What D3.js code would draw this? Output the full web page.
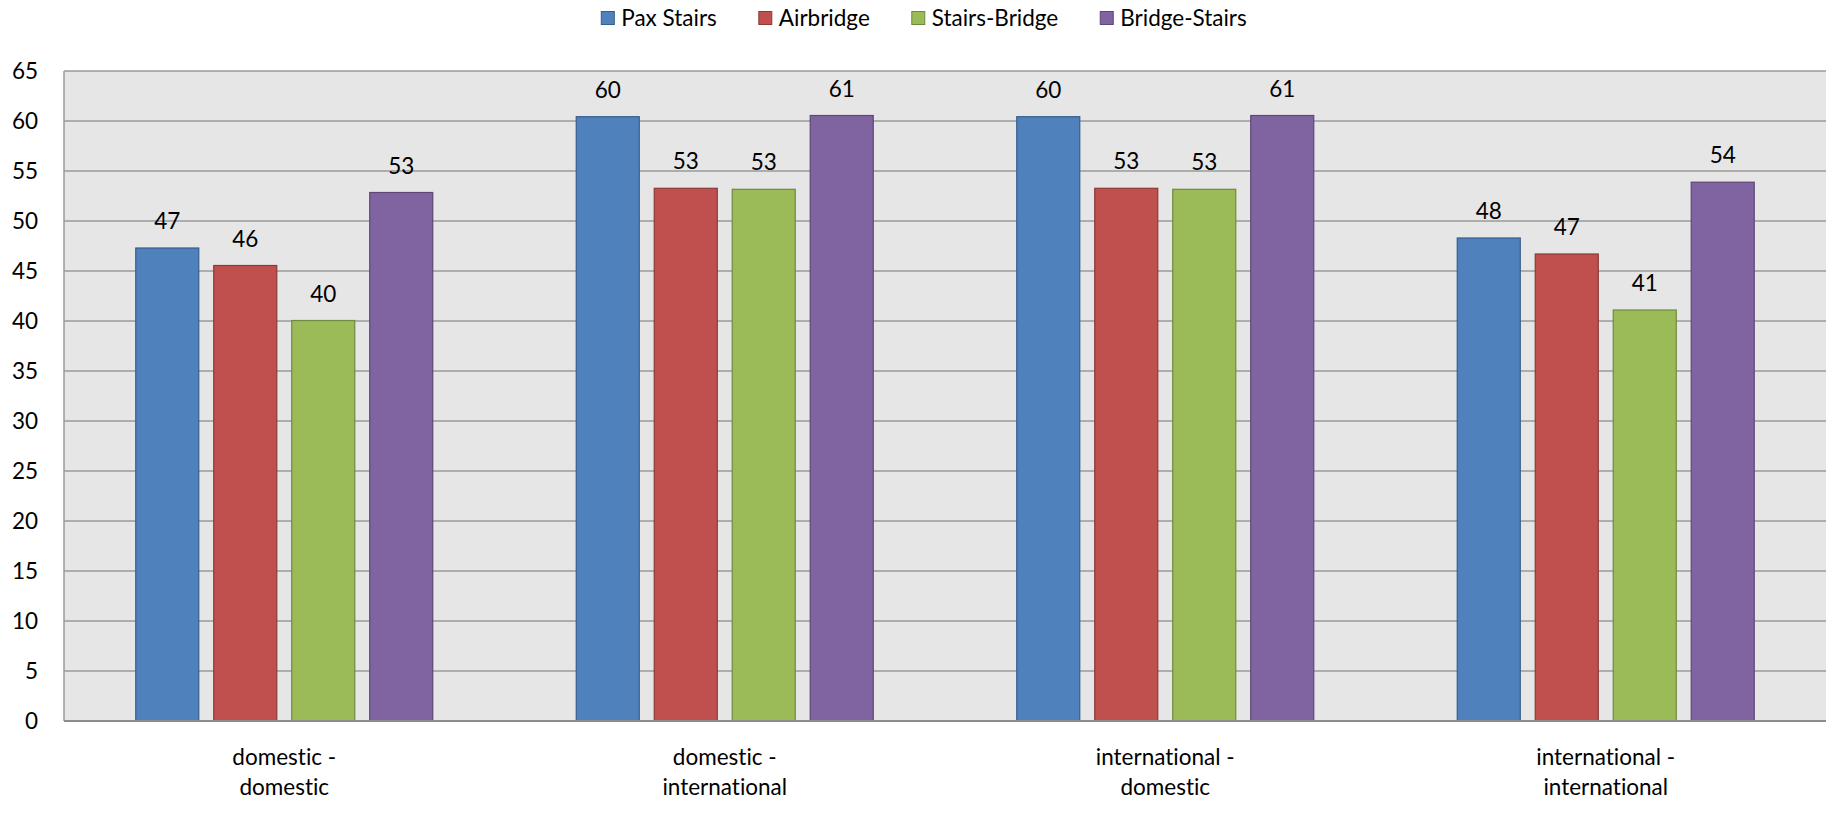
<!DOCTYPE html>
<html>
<head>
<meta charset="utf-8">
<script src="https://cdn.jsdelivr.net/npm/d3@7"></script>
<style>
  html, body { margin: 0; padding: 0; background: #ffffff; }
  svg { display: block; }
  text { font-family: Lato, "Open Sans", sans-serif; fill: #000; font-variant-ligatures: none; font-feature-settings: "liga" 0, "dlig" 0; }
</style>
</head>
<body>
<svg id="chart" width="1827" height="819"></svg>
<script>
// ---- data ----
const categories = ["domestic - domestic", "domestic - international", "international - domestic", "international - international"];
const seriesNames = ["Pax Stairs", "Airbridge", "Stairs-Bridge", "Bridge-Stairs"];
const paxStairs    = [47.3, 60.43, 60.43, 48.3];
const airbridge    = [45.55, 53.27, 53.27, 46.7];
const stairsBridge = [40.05, 53.17, 53.17, 41.1];
const bridgeStairs = [52.85, 60.55, 60.55, 53.88];
const yTicks = [0, 5, 10, 15, 20, 25, 30, 35, 40, 45, 50, 55, 60, 65];

const seriesValues = [paxStairs, airbridge, stairsBridge, bridgeStairs];
const fills   = ["#4F81BD", "#C0504D", "#9BBB59", "#8064A2"];
const strokes = ["#385D8A", "#8C3836", "#71893F", "#5C4776"];

const svg = d3.select("#chart");
const plot = { left: 64, right: 1826, top: 71, bottom: 721 };
const fontSize = 22.5;

const x0 = d3.scaleBand().domain(categories).range([plot.left, plot.right]).paddingInner(0).paddingOuter(0);
const x1 = d3.scaleBand().domain(seriesNames).range([0, x0.bandwidth()]).paddingInner(0.192).paddingOuter(0.92);
const y = d3.scaleLinear().domain([0, 65]).range([plot.bottom, plot.top]);

// plot background
svg.append("rect")
  .attr("x", plot.left).attr("y", plot.top)
  .attr("width", plot.right - plot.left).attr("height", plot.bottom - plot.top)
  .attr("fill", "#E6E6E6");

// gridlines
svg.append("g").selectAll("line").data(yTicks.filter(d => d > 0)).join("line")
  .attr("x1", plot.left).attr("x2", plot.right)
  .attr("y1", d => y(d)).attr("y2", d => y(d))
  .attr("stroke", "#9A9A9A").attr("stroke-width", 1.5);

// left axis line
svg.append("line")
  .attr("x1", plot.left).attr("x2", plot.left)
  .attr("y1", plot.top).attr("y2", plot.bottom)
  .attr("stroke", "#9A9A9A").attr("stroke-width", 1.5);

// y tick labels
svg.append("g").selectAll("text").data(yTicks).join("text")
  .attr("x", 38).attr("y", d => y(d))
  .attr("dy", "0.35em")
  .attr("text-anchor", "end")
  .style("font-size", fontSize + "px")
  .text(d => d);

// bars
const rows = [];
categories.forEach((c, i) => {
  seriesNames.forEach((s, j) => {
    rows.push({ cat: c, series: s, j: j, value: seriesValues[j][i] });
  });
});

svg.append("g").selectAll("rect").data(rows).join("rect")
  .attr("x", d => x0(d.cat) + x1(d.series))
  .attr("y", d => y(d.value))
  .attr("width", x1.bandwidth())
  .attr("height", d => y(0) - y(d.value))
  .attr("fill", d => fills[d.j])
  .attr("stroke", d => strokes[d.j])
  .attr("stroke-width", 1.2);

// bottom axis line
svg.append("line")
  .attr("x1", plot.left).attr("x2", plot.right)
  .attr("y1", y(0)).attr("y2", y(0))
  .attr("stroke", "#8C8C8C").attr("stroke-width", 2);

// value labels
const fmt = d3.format(".0f");
svg.append("g").selectAll("text").data(rows).join("text")
  .attr("x", d => x0(d.cat) + x1(d.series) + x1.bandwidth() / 2)
  .attr("y", d => y(d.value) - 19)
  .attr("text-anchor", "middle")
  .style("font-size", fontSize + "px")
  .text(d => fmt(d.value));

// category labels (two lines)
const catG = svg.append("g").selectAll("text").data(categories).join("text")
  .attr("text-anchor", "middle")
  .style("font-size", fontSize + "px");
catG.each(function(d) {
  const parts = d.split(" - ");
  const t = d3.select(this);
  t.append("tspan").attr("x", x0(d) + x0.bandwidth() / 2).attr("y", 765).text(parts[0] + " -");
  t.append("tspan").attr("x", x0(d) + x0.bandwidth() / 2).attr("y", 795).text(parts[1]);
});

// legend
const legend = svg.append("g");
const items = legend.selectAll("g").data(seriesNames).join("g");
items.append("rect")
  .attr("width", 13).attr("height", 13)
  .attr("y", 11.5)
  .attr("fill", (d, i) => fills[i])
  .attr("stroke", (d, i) => strokes[i])
  .attr("stroke-width", 1);
items.append("text")
  .attr("x", 20).attr("y", 25.5)
  .style("font-size", fontSize + "px")
  .text(d => d);
let xpos = 0;
const positions = [];
items.each(function() {
  positions.push(xpos);
  const w = d3.select(this).select("text").node().getComputedTextLength();
  xpos += 20 + w + 42;
});
const total = xpos - 42;
const startX = 924 - total / 2;
items.attr("transform", (d, i) => `translate(${startX + positions[i]},0)`);
</script>
</body>
</html>
